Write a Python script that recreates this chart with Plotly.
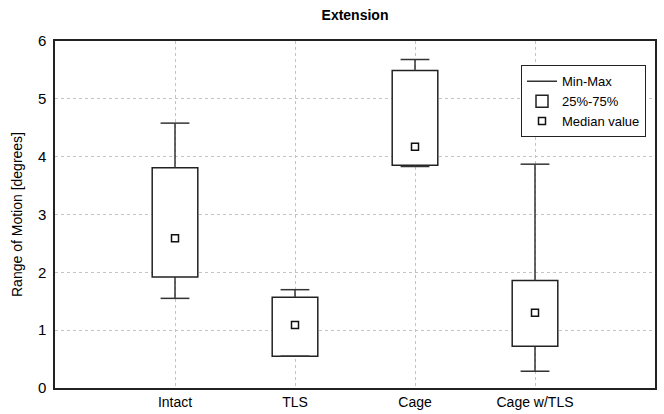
import plotly.graph_objects as go

categories = ["Intact", "TLS", "Cage", "Cage w/TLS"]
min_vals = [1.55, 0.55, 3.83, 0.29]
q1_vals = [1.92, 0.55, 3.85, 0.72]
median_vals = [2.59, 1.09, 4.17, 1.30]
q3_vals = [3.81, 1.57, 5.49, 1.86]
max_vals = [4.58, 1.70, 5.68, 3.87]
y_ticks = [0, 1, 2, 3, 4, 5, 6]

xpos = list(range(1, len(categories) + 1))
box_w = 0.38
cap_half = 0.12

# whisker segments
wx, wy = [], []
for x, lo, q1, q3, hi in zip(xpos, min_vals, q1_vals, q3_vals, max_vals):
    wx += [x, x, None, x, x, None]
    wy += [q3, hi, None, lo, q1, None]
    wx += [x - cap_half, x + cap_half, None, x - cap_half, x + cap_half, None]
    wy += [hi, hi, None, lo, lo, None]

fig = go.Figure()
fig.add_trace(go.Bar(
    x=xpos, y=[b - a for a, b in zip(q1_vals, q3_vals)], base=q1_vals,
    width=box_w, marker=dict(color="white", line=dict(color="#222", width=1.5)),
    name="25%-75%", legendrank=2, hoverinfo="skip"))
fig.add_trace(go.Scatter(
    x=wx, y=wy, mode="lines", line=dict(color="#333", width=1.5),
    name="Min-Max", legendrank=1, hoverinfo="skip"))
fig.add_trace(go.Scatter(
    x=xpos, y=median_vals, mode="markers",
    marker=dict(symbol="square-open", size=7, color="#111", line=dict(width=1.5)),
    name="Median value", legendrank=3))

font = "Liberation Sans, Arial, sans-serif"
fig.update_layout(
    width=664, height=414,
    margin=dict(l=55, r=9, t=41, b=26, autoexpand=False),
    paper_bgcolor="white", plot_bgcolor="white",
    font=dict(family=font, size=14, color="black"),
    title=dict(text="<b>Extension</b>", x=(55 + 300) / 664, xanchor="center",
               y=1 - 15 / 414, yanchor="middle", font=dict(size=14)),
    barmode="overlay",
    showlegend=True,
    legend=dict(x=0.985, xanchor="right", y=0.93, yanchor="top",
                bordercolor="#222", borderwidth=1, bgcolor="white",
                font=dict(size=13), tracegroupgap=0),
    xaxis=dict(range=[0, 5], tickvals=xpos, ticktext=categories, automargin=False,
               showgrid=True, gridcolor="#c4c4c4", griddash="dot", gridwidth=1,
               showline=True, linecolor="#222", linewidth=1.5, mirror=True,
               ticks="", zeroline=False, tickfont=dict(size=14), ticklabelstandoff=0),
    yaxis=dict(range=[0, 6], tickvals=y_ticks, automargin=False,
               title=dict(text="Range of Motion [degrees]", standoff=12, font=dict(size=14)),
               showgrid=True, gridcolor="#c4c4c4", griddash="dot", gridwidth=1,
               showline=True, linecolor="#222", linewidth=1.5, mirror=True,
               ticks="", zeroline=False, tickfont=dict(size=15), ticklabelstandoff=4),
)
fig.write_html("out.html")
